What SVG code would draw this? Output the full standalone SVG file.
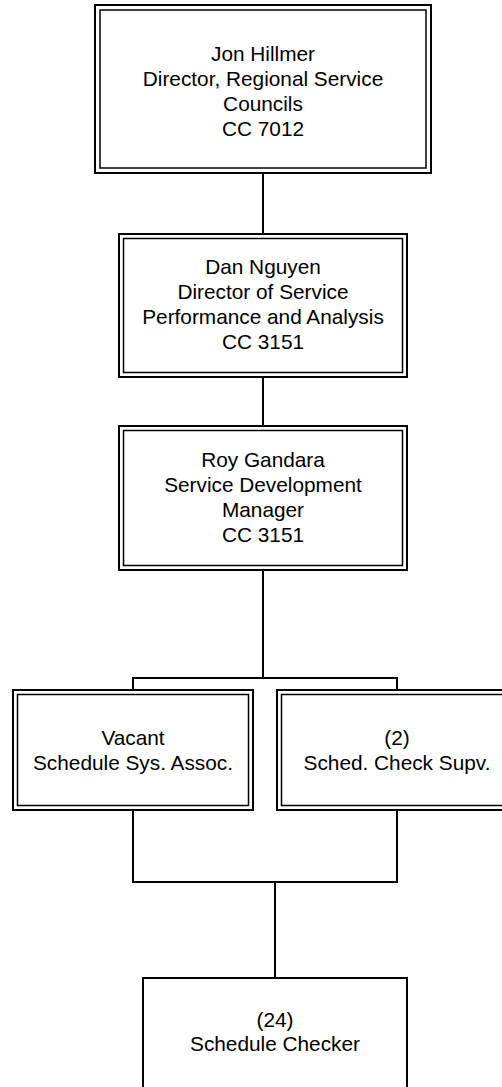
<svg xmlns="http://www.w3.org/2000/svg" width="502" height="1087" viewBox="0 0 502 1087">
<style>
  .outer { fill: none; stroke: #000; stroke-width: 2; }
  .inner { fill: none; stroke: #000; stroke-width: 1.5; }
  .single { fill: #fff; stroke: #000; stroke-width: 2; }
  .conn { fill: none; stroke: #000; stroke-width: 2; }
  text { font-family: "Liberation Sans", Arial, sans-serif; font-size: 20.8px; fill: #000; text-anchor: middle; }
</style>
<rect x="0" y="0" width="502" height="1087" fill="#fff"/>
<g id="connectors">
  <path class="conn" d="M263 173 V234"/>
  <path class="conn" d="M263 377 V426"/>
  <path class="conn" d="M263 570 V678 M133 678 H397 M133 677 V690 M397 677 V690"/>
  <path class="conn" d="M133 810 V882 M397 810 V882 M132 882 H398 M275 882 V978"/>
</g>
<g id="node-hillmer">
  <rect class="outer" x="95" y="5" width="336" height="168"/>
  <rect class="inner" x="100" y="10" width="326" height="158"/>
  <text x="263" y="61">Jon Hillmer</text>
  <text x="263" y="86">Director, Regional Service</text>
  <text x="263" y="111">Councils</text>
  <text x="263" y="136">CC 7012</text>
</g>
<g id="node-nguyen">
  <rect class="outer" x="119" y="234" width="288" height="143"/>
  <rect class="inner" x="123.5" y="238.5" width="279" height="134"/>
  <text x="263" y="274">Dan Nguyen</text>
  <text x="263" y="299">Director of Service</text>
  <text x="263" y="324">Performance and Analysis</text>
  <text x="263" y="349">CC 3151</text>
</g>
<g id="node-gandara">
  <rect class="outer" x="119" y="426" width="288" height="144"/>
  <rect class="inner" x="123.5" y="430.5" width="279" height="135"/>
  <text x="263" y="467">Roy Gandara</text>
  <text x="263" y="492">Service Development</text>
  <text x="263" y="517">Manager</text>
  <text x="263" y="542">CC 3151</text>
</g>
<g id="node-vacant">
  <rect class="outer" x="13" y="690" width="240" height="120"/>
  <rect class="inner" x="17.5" y="694.5" width="231" height="111"/>
  <text x="133" y="745">Vacant</text>
  <text x="133" y="770">Schedule Sys. Assoc.</text>
</g>
<g id="node-supv">
  <rect class="outer" x="277" y="690" width="240" height="120"/>
  <rect class="inner" x="281.5" y="694.5" width="231" height="111"/>
  <text x="397" y="745">(2)</text>
  <text x="397" y="770">Sched. Check Supv.</text>
</g>
<g id="node-checker">
  <rect class="single" x="143" y="978" width="264" height="130"/>
  <text x="275" y="1027">(24)</text>
  <text x="275" y="1051">Schedule Checker</text>
</g>
</svg>
